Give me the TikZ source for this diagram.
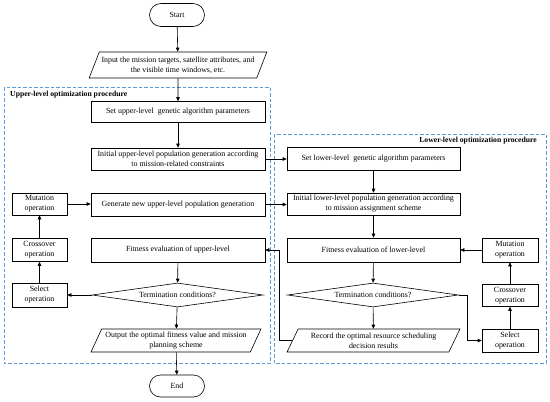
\documentclass[tikz,border=0pt]{standalone}
\usepackage{fontspec}
\setmainfont{Liberation Serif}
\usetikzlibrary{arrows.meta,shapes.geometric,shapes.misc}
\definecolor{dashblue}{RGB}{91,155,213}
\tikzset{
  base/.style={draw, line width=0.6pt, align=center, font=\fontsize{7.9}{10}\selectfont, inner sep=1pt},
  box/.style={base, rectangle, minimum width=#1, minimum height=23pt},
  term/.style={base, rounded rectangle, minimum width=57pt, minimum height=23pt},
  para/.style={base, trapezium, trapezium left angle=62, trapezium right angle=118, trapezium stretches=true, minimum width=#1, minimum height=24pt},
  dia/.style={base, diamond, aspect=7, minimum width=171pt, minimum height=24pt, inner sep=0pt},
  arr/.style={line width=0.6pt, -{Triangle[length=4pt,width=3.5pt]}},
  ln/.style={line width=0.6pt},
  grp/.style={draw=dashblue, line width=0.9pt, dash pattern=on 3.5pt off 2pt},
  grplabel/.style={font=\bfseries\fontsize{7.7}{9}\selectfont, inner sep=0pt}
}
\begin{document}
\begin{tikzpicture}[x=1pt,y=-1pt]
\useasboundingbox (0,0) rectangle (550,402);
% dashed groups
\draw[grp] (4,87) rectangle (270,363);
\draw[grp] (274,134) rectangle (546,363);
\node[grplabel, anchor=west] (ulab) at (10,95) {Upper-level optimization procedure};
\node[grplabel, anchor=east] (llab) at (537,141) {Lower-level optimization procedure};
% main column
\node[term] (start) at (177,15) {Start};
\node[para=178pt, minimum height=26pt] (input) at (178,65) {Input the mission targets, satellite attributes, and\\the visible time windows, etc.};
\node[box=174pt, minimum height=21pt] (setU) at (178,112) {Set upper-level\ \ genetic algorithm parameters};
\node[box=174pt, minimum height=22pt] (initU) at (178,159) {Initial upper-level population generation according\\to mission-related constraints};
\node[box=174pt] (genU) at (178,204.5) {Generate new upper-level population generation};
\node[box=174pt, minimum height=24pt] (fitU) at (178,250) {Fitness evaluation of upper-level};
\node[dia] (termU) at (177.5,295) {Termination conditions?};
\node[para=170pt, minimum height=23pt] (outU) at (176,340.5) {Output the optimal fitness value and mission\\planning scheme};
\node[term, minimum height=22pt] (end) at (177,386) {End};
% upper left column
\node[box=55pt, minimum height=22pt] (mutU) at (39.5,204) {Mutation\\operation};
\node[box=55pt] (croU) at (39.5,250) {Crossover\\operation};
\node[box=55pt, minimum height=24pt] (selU) at (39.5,295) {Select\\operation};
% lower level
\node[box=173pt] (setL) at (373.5,158.5) {Set lower-level\ \ genetic algorithm parameters};
\node[box=173pt, minimum height=22pt] (initL) at (373.5,204) {Initial lower-level population generation according\\to mission assignment scheme};
\node[box=173pt, minimum height=24pt] (fitL) at (373.5,250) {Fitness evaluation of lower-level};
\node[dia] (termL) at (373,295) {Termination conditions?};
\node[para=173pt, minimum height=23pt] (recL) at (373.5,340.5) {Record the optimal resource scheduling\\decision results};
\node[box=56pt, minimum height=24pt] (mutL) at (510,250) {Mutation\\operation};
\node[box=56pt, minimum height=22pt] (croL) at (510,295.5) {Crossover\\operation};
\node[box=56pt] (selL) at (510,340.5) {Select\\operation};
\coordinate (fb) at (279,250);
\coordinate (tl) at (467,295);
% connectors main
\draw[arr] (start) -- (input);
\draw[arr] (input) -- (setU);
\draw[arr] (setU) -- (initU);
\draw[arr] (fitU) -- (termU);
\draw[arr] (termU) -- (outU);
\draw[arr] (outU) -- (end);
\draw[arr] (termU.west) -- (selU.east);
\draw[arr] (selU) -- (croU);
\draw[arr] (croU) -- (mutU);
\draw[arr] (mutU.east) -- (mutU.east -| genU.west);
\draw[arr] (initU.east) -- (initU.east -| setL.west);
\draw[arr] (genU.east) -- (genU.east -| initL.west);
% lower
\draw[arr] (setL) -- (initL);
\draw[arr] (initL) -- (fitL);
\draw[arr] (fitL) -- (termL);
\draw[arr] (termL) -- (recL);
\draw[arr] (termL.east) -- (tl) |- (selL.west);
\draw[arr] (selL) -- (croL);
\draw[arr] (croL) -- (mutL);
\draw[arr] (mutL.west) -- (mutL.west -| fitL.east);
\draw[arr] (recL.left side) -| (fb) -- (fitU.east);
\end{tikzpicture}
\end{document}
